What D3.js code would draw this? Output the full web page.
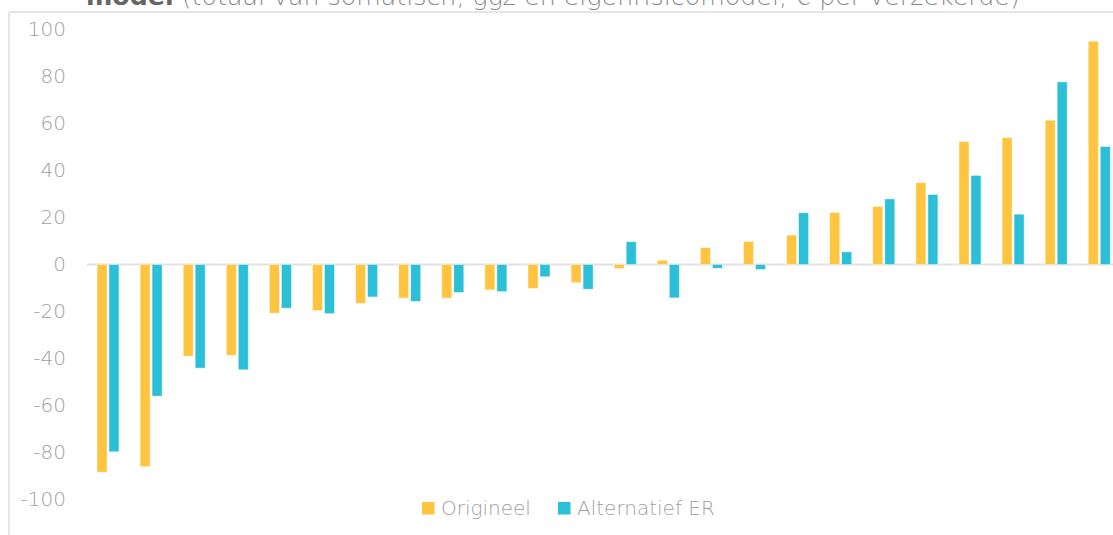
<!DOCTYPE html>
<html>
<head>
<meta charset="utf-8">
<script src="https://cdn.jsdelivr.net/npm/d3@7"></script>
<style>
  html, body { margin: 0; padding: 0; background: #fff; }
  svg { display: block; }
  text { font-family: "DejaVu Sans", "Open Sans", sans-serif; }
</style>
</head>
<body>
<svg id="chart" width="1113" height="535"></svg>
<script>
const categories = d3.range(1, 25).map(String);
const seriesNames = ["Origineel", "Alternatief ER"];
const origineel = [-88.4, -86, -39, -38.6, -20.7, -19.6, -16.5, -14.3, -14.3, -10.8, -10.2, -7.7, -1.7, 1.8, 7.2, 9.8, 12.5, 22.1, 24.7, 34.8, 52.3, 54, 61.4, 95];
const alternatief = [-79.7, -56, -44.1, -44.8, -18.6, -20.9, -13.8, -15.7, -11.9, -11.5, -5.2, -10.5, 9.7, -14.2, -1.6, -2.1, 22, 5.4, 27.9, 29.8, 37.9, 21.4, 77.7, 50.2];
const yTicks = [100, 80, 60, 40, 20, 0, -20, -40, -60, -80, -100];
const colors = ["#FFC540", "#2BC0D8"];
const titleBold = "model";
const titleRest = " (totaal van somatisch, ggz en eigenrisicomodel, € per verzekerde)";

const svg = d3.select("#chart");

// title (cut off at top, as in the reference)
const t = svg.append("text").attr("x", 86).attr("y", 5).style("font-size", "24px").attr("font-weight", 200);
t.append("tspan").text(titleBold).attr("font-weight", "bold").attr("fill", "#666");
t.append("tspan").text(titleRest).attr("fill", "#8a8a8a");
const tl = t.node().getComputedTextLength();
t.style("font-size", (24 * 934 / tl).toFixed(2) + "px");

// frame
svg.append("line").attr("x1", 9).attr("x2", 1113).attr("y1", 12).attr("y2", 12)
  .attr("stroke", "#dcdcdc").attr("stroke-width", 1.5);
svg.append("line").attr("x1", 9).attr("x2", 9).attr("y1", 12).attr("y2", 535)
  .attr("stroke", "#dcdcdc").attr("stroke-width", 1.5);

const y = d3.scaleLinear().domain([-100, 100]).range([499.5, 29.5]);
const x0 = d3.scaleBand().domain(categories).range([87, 87 + 24 * 43.1]).padding(0);
const bw = x0.bandwidth();
const x1 = d3.scaleBand().domain(seriesNames).range([bw * 0.232, bw * 0.742]).paddingInner(0.1667).paddingOuter(0);

// y axis labels (hyphen minus as in reference)
const yAxis = d3.axisLeft(y).tickValues(yTicks).tickSize(0).tickPadding(0).tickFormat(d => String(d));
const ga = svg.append("g").attr("transform", "translate(66,0)").call(yAxis);
ga.select(".domain").remove();
ga.selectAll("text").attr("fill", "#a0a0a0").style("font-size", "20px")
  .style("font-family", "'DejaVu Sans', 'Open Sans', sans-serif").attr("font-weight", 200).attr("dy", "0.3em");

// zero line
svg.append("line").attr("x1", 87).attr("x2", 1113).attr("y1", y(0)).attr("y2", y(0))
  .attr("stroke", "#e2e2e2").attr("stroke-width", 2);

const data = categories.map((c, i) => ({c, vals: [origineel[i], alternatief[i]]}));
const g = svg.append("g");
const groups = g.selectAll("g").data(data).join("g").attr("transform", d => `translate(${x0(d.c)},0)`);
groups.selectAll("rect").data(d => d.vals.map((v, k) => ({k, v})))
  .join("rect")
  .attr("x", d => x1(seriesNames[d.k]))
  .attr("width", x1.bandwidth())
  .attr("y", d => y(Math.max(0, d.v)))
  .attr("height", d => Math.abs(y(d.v) - y(0)))
  .attr("fill", d => colors[d.k])
  .attr("stroke", "#fff").attr("stroke-opacity", 0.5).attr("stroke-width", 0.8);

// legend
const legendPos = [{x: 422, name: seriesNames[0]}, {x: 558, name: seriesNames[1]}];
const lg = svg.append("g").selectAll("g").data(legendPos).join("g");
lg.append("rect").attr("x", d => d.x).attr("y", 502).attr("width", 12.5).attr("height", 12.5)
  .attr("fill", (d, i) => colors[i]);
lg.append("text").attr("x", d => d.x + 19).attr("y", 515).text(d => d.name)
  .attr("fill", "#a0a0a0").style("font-size", "20px").attr("font-weight", 200);
</script>
</body>
</html>
